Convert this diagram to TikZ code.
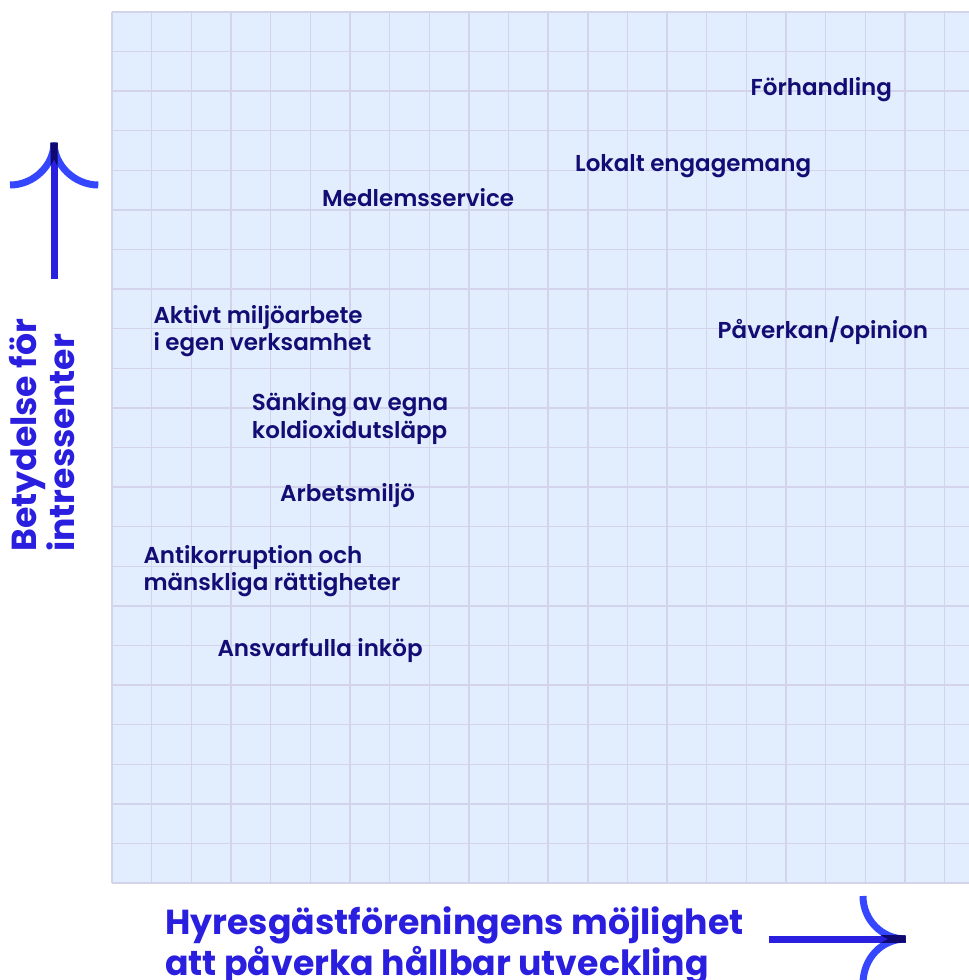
\documentclass[tikz,border=0pt]{standalone}
\usepackage{fontspec}
\setmainfont{Poppins}
\newfontfamily\lblfont{Poppins SemiBold}
\newfontfamily\axfont{Poppins Bold}
\definecolor{gridbg}{HTML}{E2EDFE}
\definecolor{gridln}{HTML}{D3D4EC}
\definecolor{navy}{HTML}{120C74}
\definecolor{axblue}{HTML}{2A1FDE}
\definecolor{armblue}{HTML}{3447FF}
\definecolor{tipnavy}{HTML}{0E0870}
\tikzset{
  gridline/.style={draw=gridln, line width=1.4pt},
  lbl/.style={text=navy, inner sep=0pt, anchor=base west, align=left,
    font=\lblfont\fontsize{23pt}{27.5pt}\selectfont},
  axlbl/.style={text=axblue, inner sep=0pt, anchor=base west, align=left,
    font=\axfont\fontsize{34.7pt}{41pt}\selectfont},
  aylbl/.style={text=axblue, inner sep=0pt, anchor=base west, align=left,
    font=\axfont\fontsize{34.7pt}{36.7pt}\selectfont},
  shaft/.style={draw=axblue, line width=7pt},
  arm/.style={draw=armblue, line width=7pt},
  tiparm/.style={draw=tipnavy, line width=7pt},
}
\begin{document}
\begin{tikzpicture}[x=1pt,y=-1pt]
\useasboundingbox (0,0) rectangle (969,980);
% grid
\fill[gridbg] (112,12) rectangle (969,883);
\foreach \i in {0,...,21} \draw[gridline] ({112+39.65*\i},12) -- ({112+39.65*\i},883);
\foreach \j in {0,...,22} \draw[gridline] (112,{12+39.59*\j}) -- (969,{12+39.59*\j});
% labels (multi-line nodes: base = last line's baseline)
\node[lbl] (forh) at (750.5,95) {Förhandling};
\node[lbl] (lokalt) at (575,171.7) {Lokalt engagemang};
\node[lbl] (medl) at (322,206.7) {Medlemsservice};
\node[lbl] (aktivt) at (153.3,350.7) {Aktivt miljöarbete\\i egen verksamhet};
\node[lbl] (paverkan) at (717.5,338.3) {Påverkan/opinion};
\node[lbl] (sanking) at (251.7,438.3) {Sänking av egna\\koldioxidutsläpp};
\node[lbl] (arbets) at (280,501.7) {Arbetsmiljö};
\node[lbl] (antikorr) at (143.3,590.5) {Antikorruption och\\mänskliga rättigheter};
\node[lbl] (ansvar) at (217.3,656.7) {Ansvarfulla inköp};
% axis labels
\node[axlbl] (xlab) at (165,975) {Hyresgästföreningens möjlighet\\att påverka hållbar utveckling};
\node[aylbl, rotate=90] (ylab) at (74,552) {Betydelse för\\intressenter};
% vertical arrow
\coordinate (vbot) at (54,279.3);
\coordinate (vtip) at (54,142.7);
\coordinate (vl) at (10,185);
\coordinate (vr) at (98.3,185);
\draw[shaft] (vbot) -- (vtip);
\draw[arm] (vl) .. controls (34,185) and (54,165) .. (vtip);
\draw[arm] (vr) .. controls (74.3,185) and (54,165) .. (vtip);
\begin{scope}
\clip (50.5,142.7) rectangle (57.5,279.3);
\draw[tiparm] (vl) .. controls (34,185) and (54,165) .. (vtip);
\draw[tiparm] (vr) .. controls (74.3,185) and (54,165) .. (vtip);
\end{scope}
% horizontal arrow
\coordinate (hl) at (768.5,939);
\coordinate (htip) at (905.5,939);
\coordinate (ht) at (863,896);
\coordinate (hb) at (863,984);
\draw[shaft] (hl) -- (htip);
\draw[arm] (ht) .. controls (863,920) and (882,939) .. (htip);
\draw[arm] (hb) .. controls (863,958) and (882,939) .. (htip);
\begin{scope}
\clip (768.5,935.5) rectangle (905.5,942.5);
\draw[tiparm] (ht) .. controls (863,920) and (882,939) .. (htip);
\draw[tiparm] (hb) .. controls (863,958) and (882,939) .. (htip);
\end{scope}
\end{tikzpicture}
\end{document}
